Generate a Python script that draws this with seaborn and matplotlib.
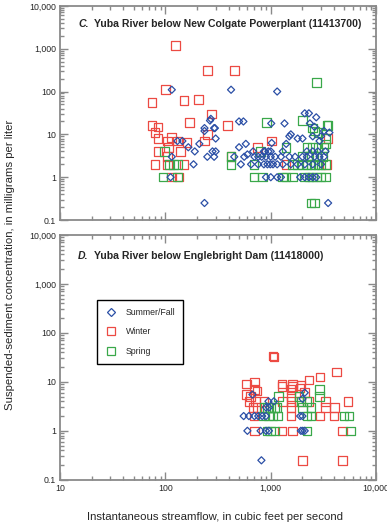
import matplotlib
matplotlib.use('Agg')
import matplotlib.pyplot as plt
from matplotlib.lines import Line2D
from matplotlib.ticker import FixedLocator, FixedFormatter, LogLocator, NullFormatter
import pandas as pd
import seaborn as sns

# (streamflow cfs, suspended sediment mg/L)
# Panel C - Yuba River below New Colgate Powerplant
c_summer = [(115, 110), (420, 110), (1150, 100), (270, 23), (265, 21), (235, 14), (295, 14),
            (500, 20), (550, 20), (1010, 18), (1350, 18), (2100, 31), (2300, 31), (2700, 25),
            (2350, 18), (2600, 15), (3600, 11), (1550, 10), (1500, 9), (1400, 6), (1020, 6.3),
            (580, 6), (500, 5), (680, 4), (600, 3.4), (860, 4), (130, 7), (145, 7), (165, 5),
            (115, 3), (190, 4), (235, 12), (290, 14), (300, 8), (280, 4), (300, 4), (250, 3),
            (290, 3), (185, 2), (112, 1), (235, 0.25), (3500, 0.25), (210, 6), (3200, 12),
            (3000, 9), (1800, 8), (2000, 8), (2500, 9), (2900, 7),
            (450, 3), (560, 3), (700, 3), (760, 3), (820, 3), (900, 3), (1000, 3), (1100, 3),
            (1250, 3), (1500, 3), (1700, 3), (2000, 3), (2200, 3), (2600, 3), (2900, 3), (3200, 3),
            (520, 2), (650, 2), (760, 2), (860, 2), (930, 2), (990, 2), (1050, 2), (1150, 2),
            (1300, 2), (1550, 2), (1800, 2), (2100, 2), (2500, 2), (3000, 2),
            (900, 1), (1000, 1), (1150, 1), (1250, 1), (1900, 1), (2100, 1), (2300, 1), (2500, 1),
            (2700, 1), (880, 4), (950, 4), (1000, 4), (1300, 4), (2200, 4), (2500, 4), (2800, 4),
            (3300, 4)]
c_winter = [(124, 1200), (250, 310), (450, 310), (100, 110), (75, 55), (150, 62), (205, 65),
            (275, 30), (170, 19), (75, 16), (85, 15), (390, 16), (80, 11), (85, 8), (115, 8.5),
            (107, 5), (105, 7), (160, 6.5), (85, 4), (105, 3), (140, 4), (235, 7), (250, 10),
            (130, 7), (80, 2), (105, 2), (150, 2), (420, 3), (1010, 7), (750, 5), (1400, 2),
            (3500, 8), (3400, 2), (115, 1), (135, 1)]
c_spring = [(2700, 160), (910, 19), (2000, 21), (3500, 16), (2500, 14), (3400, 16), (2600, 12),
            (2800, 11), (1400, 5), (98, 4), (420, 3), (420, 2), (110, 2), (120, 2), (130, 2),
            (95, 1), (130, 1), (690, 1), (830, 1), (2400, 0.25), (2600, 0.25), (3300, 6),
            (3300, 8), (800, 4), (690, 2),
            (2200, 5), (2500, 5), (2800, 5), (3200, 5),
            (1600, 2), (1800, 2), (2000, 2), (2200, 2), (2400, 2), (2600, 2), (2800, 2), (3000, 2),
            (3300, 2), (1300, 1), (1400, 1), (1600, 1), (2100, 1), (2300, 1), (2500, 1), (2700, 1),
            (3000, 1), (3300, 1), (2000, 3), (2300, 3), (2700, 3), (3100, 3)]

# Panel D - Yuba River below Englebright Dam
d_summer = [(553, 2), (620, 2), (700, 2), (760, 2), (830, 2), (900, 2), (1900, 2), (2000, 2),
            (600, 1), (800, 1), (900, 1), (960, 1), (1930, 1), (2000, 1), (2100, 1),
            (900, 3), (960, 3), (950, 4), (1070, 4), (670, 5.5), (2100, 6), (815, 0.25),
            (2000, 4.5)]
d_winter = [(4200, 16), (2930, 12.6), (2300, 11), (590, 9), (700, 10), (1280, 9), (1600, 9),
            (1930, 8.5), (740, 6.5), (590, 5.5), (1550, 7), (1550, 5), (2100, 6), (1050, 34),
            (1070, 32), (1900, 7.5), (700, 7), (640, 5), (1280, 8), (1600, 8),
            (620, 4), (720, 4), (860, 4), (1300, 4), (1550, 4), (1850, 4), (2300, 4), (3300, 4),
            (5400, 4), (680, 3), (740, 3), (1550, 3), (3300, 3), (4000, 3),
            (690, 2), (1550, 2), (2930, 2), (3980, 2), (700, 1), (1280, 1), (1600, 1), (4800, 1),
            (2000, 0.25), (4800, 0.25)]
d_spring = [(1190, 5), (2900, 7), (2900, 5), (1850, 5), (1930, 4), (2200, 4),
            (860, 3), (930, 3), (1000, 3), (1080, 3), (1150, 3), (2000, 3), (2400, 3),
            (857, 2), (950, 2), (1050, 2), (1167, 2), (2200, 2), (2404, 2), (4958, 2), (5529, 2),
            (920, 1), (1000, 1), (1100, 1), (2200, 1), (5700, 1)]

seasons = ['Summer/Fall', 'Winter', 'Spring']
colors = {'Summer/Fall': '#2b4fa6', 'Winter': '#ec4a43', 'Spring': '#3aa84a'}
markers = {'Summer/Fall': 'D', 'Winter': 's', 'Spring': 's'}
sizes = {'Summer/Fall': 13, 'Winter': 38, 'Spring': 38}

y_ticks = [0.1, 1, 10, 100, 1000, 10000]
y_labels = ['0.1', '1', '10', '100', '1,000', '10,000']
x_ticks = [10, 100, 1000, 10000]
x_labels = ['10', '100', '1,000', '10,000']


def make_df(summer, winter, spring):
    rows = []
    for name, pts in zip(seasons, [summer, winter, spring]):
        for q, c in pts:
            rows.append({'flow': q, 'ssc': c, 'season': name})
    return pd.DataFrame(rows)


df_c = make_df(c_summer, c_winter, c_spring)
df_d = make_df(d_summer, d_winter, d_spring)

sns.set_style('ticks')
plt.rcParams['font.family'] = ['Liberation Sans', 'DejaVu Sans']

fig = plt.figure(figsize=(3.87, 5.29), dpi=100)
ax_c = fig.add_axes([0.155, 0.584, 0.817, 0.405])
ax_d = fig.add_axes([0.155, 0.093, 0.817, 0.463])


def draw(ax, df, letter, title, show_x):
    for s in ['Winter', 'Spring', 'Summer/Fall']:
        sub = df[df.season == s]
        sns.scatterplot(data=sub, x='flow', y='ssc', marker=markers[s], s=sizes[s],
                        color=colors[s], facecolor='none', edgecolor=colors[s],
                        linewidth=0.9, ax=ax, legend=False)
    ax.set_xscale('log')
    ax.set_yscale('log')
    ax.set_xlim(10, 10000)
    ax.set_ylim(0.1, 10000)
    ax.set_xlabel('')
    ax.set_ylabel('')
    ax.yaxis.set_major_locator(FixedLocator(y_ticks))
    ax.yaxis.set_major_formatter(FixedFormatter(y_labels))
    ax.xaxis.set_major_locator(FixedLocator(x_ticks))
    if show_x:
        ax.xaxis.set_major_formatter(FixedFormatter(x_labels))
    else:
        ax.xaxis.set_major_formatter(NullFormatter())
    ax.xaxis.set_minor_locator(LogLocator(subs=range(2, 10)))
    ax.yaxis.set_minor_locator(LogLocator(subs=range(2, 10)))
    ax.xaxis.set_minor_formatter(NullFormatter())
    ax.yaxis.set_minor_formatter(NullFormatter())
    ax.tick_params(which='both', direction='in', top=True, right=True,
                   color='#8a8a8a', labelsize=6.3, width=1, pad=3)
    ax.tick_params(which='major', length=6)
    ax.tick_params(which='minor', length=3)
    for sp in ax.spines.values():
        sp.set_color('#8a8a8a')
        sp.set_linewidth(1.3)
    t = ax.text(0.057, 0.9, letter, transform=ax.transAxes, fontsize=7.6,
                fontweight='bold', fontstyle='italic', va='baseline')
    ax.annotate(title, xy=(1, 0), xycoords=t, xytext=(4, 0), textcoords='offset points',
                fontsize=7.6, fontweight='bold', va='bottom')


draw(ax_c, df_c, 'C.', 'Yuba River below New Colgate Powerplant (11413700)', False)
draw(ax_d, df_d, 'D.', 'Yuba River below Englebright Dam (11418000)', True)

handles = [Line2D([], [], ls='', marker=markers[s], mfc='none', mec=colors[s],
                  ms=4 if s == 'Summer/Fall' else 6, mew=0.9) for s in seasons]
leg = ax_d.legend(handles, seasons, loc='upper left', bbox_to_anchor=(0.117, 0.735),
                  frameon=True, fancybox=False, edgecolor='black', framealpha=1,
                  fontsize=6.3, labelspacing=1.2, handletextpad=1.0, borderpad=0.9,
                  borderaxespad=0, handlelength=1.4)
leg.get_frame().set_linewidth(1)

fig.text(0.026, 0.5, 'Suspended-sediment concentration, in milligrams per liter',
         rotation=90, va='center', ha='center', fontsize=8.2)
fig.text(0.555, 0.023, 'Instantaneous streamflow, in cubic feet per second',
         va='center', ha='center', fontsize=8.2)

fig.savefig('out.png', dpi=100)
